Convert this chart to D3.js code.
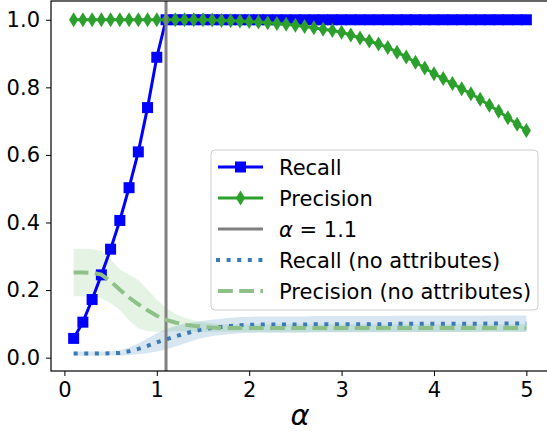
<!DOCTYPE html>
<html>
<head>
<meta charset="utf-8">
<script src="https://cdn.jsdelivr.net/npm/d3@7"></script>
<style>
  body { margin: 0; background: #fff; }
  svg { display: block; font-family: "DejaVu Sans", sans-serif; }
</style>
</head>
<body>
<div id="chart"></div>
<script>
const width = 547, height = 432;

// alpha values (x)
const alphas = [0.1, 0.2, 0.3, 0.4, 0.5, 0.6, 0.7, 0.8, 0.9, 1.0,
  1.1, 1.2, 1.3, 1.4, 1.5, 1.6, 1.7, 1.8, 1.9, 2.0,
  2.1, 2.2, 2.3, 2.4, 2.5, 2.6, 2.7, 2.8, 2.9, 3.0,
  3.1, 3.2, 3.3, 3.4, 3.5, 3.6, 3.7, 3.8, 3.9, 4.0,
  4.1, 4.2, 4.3, 4.4, 4.5, 4.6, 4.7, 4.8, 4.9, 5.0];

const recall = [0.057, 0.105, 0.172, 0.245, 0.321, 0.406, 0.503, 0.609, 0.740, 0.889,
  1, 1, 1, 1, 1, 1, 1, 1, 1, 1,
  1, 1, 1, 1, 1, 1, 1, 1, 1, 1,
  1, 1, 1, 1, 1, 1, 1, 1, 1, 1,
  1, 1, 1, 1, 1, 1, 1, 1, 1, 1];

const precision = [1, 1, 1, 1, 1, 1, 1, 1, 1, 1,
  1, 1, 1, 1, 1, 0.999, 0.998, 0.997, 0.996, 0.995,
  0.993, 0.991, 0.989, 0.987, 0.984, 0.980, 0.976, 0.972, 0.968, 0.963,
  0.955, 0.946, 0.937, 0.928, 0.918, 0.904, 0.890, 0.874, 0.857, 0.840,
  0.826, 0.811, 0.796, 0.781, 0.765, 0.747, 0.729, 0.710, 0.691, 0.672];

const recallNoAttr = [0.012, 0.012, 0.012, 0.012, 0.013, 0.014, 0.019, 0.026, 0.035, 0.045,
  0.054, 0.063, 0.071, 0.078, 0.084, 0.088, 0.091, 0.094, 0.096, 0.097,
  0.098, 0.098, 0.098, 0.098, 0.098, 0.098, 0.099, 0.099, 0.099, 0.099,
  0.099, 0.099, 0.099, 0.099, 0.099, 0.100, 0.100, 0.100, 0.100, 0.100,
  0.100, 0.100, 0.100, 0.100, 0.100, 0.101, 0.101, 0.101, 0.101, 0.101];

const recallNoAttrStd = [0.006, 0.006, 0.006, 0.006, 0.006, 0.008, 0.011, 0.016, 0.022, 0.027,
  0.030, 0.030, 0.029, 0.027, 0.025, 0.024, 0.024, 0.024, 0.024, 0.024,
  0.024, 0.024, 0.024, 0.024, 0.024, 0.024, 0.024, 0.024, 0.024, 0.024,
  0.024, 0.024, 0.024, 0.024, 0.024, 0.024, 0.024, 0.024, 0.024, 0.024,
  0.024, 0.024, 0.024, 0.024, 0.024, 0.024, 0.024, 0.024, 0.024, 0.024];

const precisionNoAttr = [0.252, 0.252, 0.251, 0.246, 0.226, 0.201, 0.178, 0.158, 0.140, 0.124,
  0.112, 0.104, 0.098, 0.094, 0.091, 0.089, 0.088, 0.088, 0.088, 0.088,
  0.088, 0.088, 0.088, 0.088, 0.088, 0.088, 0.088, 0.088, 0.088, 0.088,
  0.088, 0.088, 0.088, 0.088, 0.088, 0.088, 0.088, 0.088, 0.088, 0.088,
  0.088, 0.088, 0.088, 0.088, 0.088, 0.088, 0.088, 0.088, 0.088, 0.088];

const precisionNoAttrStd = [0.070, 0.070, 0.070, 0.070, 0.065, 0.060, 0.068, 0.072, 0.062, 0.047,
  0.035, 0.026, 0.020, 0.017, 0.014, 0.012, 0.011, 0.011, 0.011, 0.011,
  0.011, 0.011, 0.011, 0.011, 0.011, 0.011, 0.011, 0.011, 0.011, 0.011,
  0.011, 0.011, 0.011, 0.011, 0.011, 0.011, 0.011, 0.011, 0.011, 0.011,
  0.011, 0.011, 0.011, 0.011, 0.011, 0.011, 0.011, 0.011, 0.011, 0.011];

const xTicks = [0, 1, 2, 3, 4, 5];
const yTicks = [0.0, 0.2, 0.4, 0.6, 0.8, 1.0];
const cutoff = 1.1;

const plotLeft = 51, plotRight = 549, plotTop = 1, plotBottom = 371;
const fontSize = 21;

const x = d3.scaleLinear().domain([-0.145, 5.245]).range([plotLeft, plotRight]);
const y = d3.scaleLinear().domain([-0.0395, 1.0555]).range([plotBottom, plotTop]);

const svg = d3.select('#chart').append('svg')
  .attr('width', width)
  .attr('height', height);

const blue = '#0000ff', green = '#2ca02c', tabBlue = '#1f77b4';

const band = (mean, std) => d3.area()
  .x((d, i) => x(alphas[i]))
  .y0((d, i) => y(mean[i] - std[i]))
  .y1((d, i) => y(mean[i] + std[i]))(alphas);

const line = vals => d3.line()
  .x((d, i) => x(alphas[i]))
  .y((d, i) => y(vals[i]))(alphas);

// bands
svg.append('path').attr('d', band(recallNoAttr, recallNoAttrStd))
  .attr('fill', tabBlue).attr('fill-opacity', 0.18);
svg.append('path').attr('d', band(precisionNoAttr, precisionNoAttrStd))
  .attr('fill', green).attr('fill-opacity', 0.12);

// recall
svg.append('path').attr('d', line(recall))
  .attr('fill', 'none').attr('stroke', blue).attr('stroke-width', 3);
svg.append('g').selectAll('rect').data(recall).join('rect')
  .attr('x', (d, i) => x(alphas[i]) - 5.5)
  .attr('y', d => y(d) - 5.5)
  .attr('width', 11).attr('height', 11)
  .attr('fill', blue);

// precision
const diamond = 'M0,-7.5L4.6,0L0,7.5L-4.6,0Z';
svg.append('path').attr('d', line(precision))
  .attr('fill', 'none').attr('stroke', green).attr('stroke-width', 3);
svg.append('g').selectAll('path').data(precision).join('path')
  .attr('d', diamond)
  .attr('transform', (d, i) => `translate(${x(alphas[i])},${y(d)})`)
  .attr('fill', green);

// cutoff line
svg.append('line')
  .attr('x1', x(cutoff)).attr('x2', x(cutoff))
  .attr('y1', plotTop).attr('y2', plotBottom)
  .attr('stroke', '#808080').attr('stroke-width', 3);

// no-attribute lines
svg.append('path').attr('d', line(recallNoAttr))
  .attr('fill', 'none').attr('stroke', '#3b7ab6').attr('stroke-width', 4)
  .attr('stroke-dasharray', '4,6.6');
svg.append('path').attr('d', line(precisionNoAttr))
  .attr('fill', 'none').attr('stroke', '#8fc089').attr('stroke-width', 4)
  .attr('stroke-dasharray', '14.8,6.4');

// axes
const xAxis = svg.append('g').attr('transform', `translate(0,${plotBottom})`)
  .call(d3.axisBottom(x).tickValues(xTicks).tickFormat(d3.format('d')).tickSize(5).tickPadding(6));
const yAxis = svg.append('g').attr('transform', `translate(${plotLeft},0)`)
  .call(d3.axisLeft(y).tickValues(yTicks).tickFormat(d3.format('.1f')).tickSize(5).tickPadding(6));
[xAxis, yAxis].forEach(a => {
  a.attr('font-family', null).attr('font-size', null);
  a.selectAll('text').attr('font-size', fontSize).attr('fill', '#000');
  a.selectAll('line').attr('stroke', '#000').attr('stroke-width', 1);
  a.select('.domain').remove();
});
// spines
svg.append('rect')
  .attr('x', plotLeft).attr('y', plotTop)
  .attr('width', plotRight - plotLeft).attr('height', plotBottom - plotTop)
  .attr('fill', 'none').attr('stroke', '#000').attr('stroke-width', 1.2);

svg.append('text')
  .attr('x', 300).attr('y', 425)
  .attr('text-anchor', 'middle')
  .attr('font-size', 29).attr('font-style', 'italic')
  .text('α');

// legend
const legend = svg.append('g').attr('transform', 'translate(211,150)');
legend.append('rect')
  .attr('width', 327).attr('height', 160).attr('rx', 4)
  .attr('fill', '#fff').attr('fill-opacity', 0.8)
  .attr('stroke', '#cccccc').attr('stroke-width', 1);

const entries = [
  { label: 'Recall', kind: 'recall' },
  { label: 'Precision', kind: 'precision' },
  { label: 'cutoff', kind: 'cutoff' },
  { label: 'Recall (no attributes)', kind: 'recallNA' },
  { label: 'Precision (no attributes)', kind: 'precisionNA' }
];

entries.forEach((e, i) => {
  const cy = 17 + i * 31;
  const g = legend.append('g').attr('transform', `translate(0,${cy})`);
  const hx1 = 7, hx2 = 52, hm = (hx1 + hx2) / 2;
  if (e.kind === 'recall') {
    g.append('line').attr('x1', hx1).attr('x2', hx2).attr('stroke', blue).attr('stroke-width', 3);
    g.append('rect').attr('x', hm - 5.5).attr('y', -5.5).attr('width', 11).attr('height', 11).attr('fill', blue);
  } else if (e.kind === 'precision') {
    g.append('line').attr('x1', hx1).attr('x2', hx2).attr('stroke', green).attr('stroke-width', 3);
    g.append('path').attr('d', diamond).attr('transform', `translate(${hm},0)`).attr('fill', green);
  } else if (e.kind === 'cutoff') {
    g.append('line').attr('x1', hx1).attr('x2', hx2).attr('stroke', '#808080').attr('stroke-width', 3);
  } else if (e.kind === 'recallNA') {
    g.append('line').attr('x1', hx1 - 2).attr('x2', hx2 + 2).attr('stroke', '#3b7ab6').attr('stroke-width', 4)
      .attr('stroke-dasharray', '4,6.6');
  } else {
    g.append('line').attr('x1', hx1).attr('x2', hx2).attr('stroke', '#8fc089').attr('stroke-width', 4)
      .attr('stroke-dasharray', '14.8,6.4');
  }
  const t = g.append('text').attr('x', 68).attr('y', 7.5).attr('font-size', fontSize).attr('fill', '#000');
  if (e.kind === 'cutoff') {
    t.append('tspan').attr('font-style', 'italic').text('α');
    t.append('tspan').text(' = ' + cutoff);
  } else {
    t.text(e.label);
  }
});
</script>
</body>
</html>
